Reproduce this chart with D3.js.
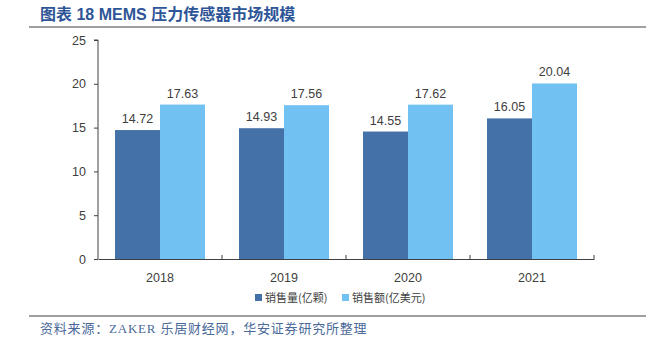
<!DOCTYPE html>
<html><head><meta charset="utf-8">
<script src="https://cdn.jsdelivr.net/npm/d3@7"></script>
<style>body{margin:0;background:#fff}svg{display:block}</style>
</head><body>
<svg id="c" width="648" height="340"></svg>
<script>
const categories = ["2018","2019","2020","2021"];
const seriesNames = ["销售量(亿颗)","销售额(亿美元)"];
const volume = [14.72,14.93,14.55,16.05];
const revenue = [17.63,17.56,17.62,20.04];
const yTicks = [0,5,10,15,20,25];
const colors = ["#4472a8","#72c1f3"];

const svg = d3.select("#c");
const m = {left:98, right:54, top:40, bottom:81};
const W = 648, H = 340;
const x0 = d3.scaleBand().domain(categories).range([m.left, W-m.right]).padding(0);
const x1 = d3.scaleBand().domain([0,1]).range([0, x0.bandwidth()]).paddingInner(0).paddingOuter(0.378);
const y = d3.scaleLinear().domain([0,25]).range([H-m.bottom, m.top]);

// title
svg.append("text").attr("x",40).attr("y",20).attr("fill","#2e5597")
  .attr("font-family","Liberation Sans, Noto Sans CJK SC, sans-serif").attr("font-weight","bold").attr("font-size",16)
  .text("图表 18 MEMS 压力传感器市场规模");
svg.append("line").attr("x1",29).attr("x2",646).attr("y1",27).attr("y2",27).attr("stroke","#7f7f7f").attr("stroke-width",1.5);

const data = [volume, revenue];
const g = svg.append("g");
categories.forEach((c,i)=>{
  [0,1].forEach(s=>{
    const v = data[s][i];
    g.append("rect").attr("x",x0(c)+x1(s)).attr("width",x1.bandwidth())
      .attr("y",y(v)).attr("height",y(0)-y(v)).attr("fill",colors[s]);
    g.append("text").attr("x",x0(c)+x1(s)+x1.bandwidth()/2).attr("y",y(v)-7)
      .attr("text-anchor","middle").attr("font-family","Liberation Sans, Arial, sans-serif")
      .attr("font-size",12.5).attr("fill","#404040").text(v.toFixed(2));
  });
});

// y axis
const ya = svg.append("g").attr("transform",`translate(${m.left},0)`)
  .call(d3.axisLeft(y).tickValues(yTicks).tickSize(4).tickPadding(8).tickFormat(d3.format("d")));
ya.select(".domain").attr("stroke","#404040").attr("d",`M-4,${y(25)}H0V${y(0)}`);
ya.selectAll(".tick line").attr("stroke","#404040");
ya.selectAll("text").attr("font-family","Liberation Sans, Arial, sans-serif").attr("font-size",12.5).attr("fill","#404040");

// x axis
const xa = svg.append("g").attr("transform",`translate(0,${y(0)})`)
  .call(d3.axisBottom(x0).tickSize(0).tickPadding(14));
xa.select(".domain").attr("stroke","#404040");
xa.selectAll("text").attr("font-family","Liberation Sans, Arial, sans-serif").attr("font-size",12.5).attr("fill","#404040");
categories.forEach(c=>{
  const xx = x0(c)+x0.bandwidth();
  xa.append("line").attr("x1",xx).attr("x2",xx).attr("y1",0).attr("y2",-4).attr("stroke","#404040");
});

// legend
const lg = svg.append("g");
const lx = [255, 342];
seriesNames.forEach((n,i)=>{
  lg.append("rect").attr("x",lx[i]).attr("y",294).attr("width",7).attr("height",7).attr("fill",colors[i]);
  lg.append("text").attr("x",lx[i]+10).attr("y",302).attr("font-family","Noto Sans CJK SC, sans-serif")
    .attr("font-size",11).attr("fill","#404040").text(n);
});

// footer
svg.append("line").attr("x1",29).attr("x2",646).attr("y1",316).attr("y2",316).attr("stroke","#404040").attr("stroke-width",1.2);
svg.append("text").attr("x",40).attr("y",333).attr("fill","#4a6a9a")
  .attr("font-family","Liberation Serif, Noto Sans CJK SC, serif").attr("font-size",13).attr("letter-spacing",0.8)
  .text("资料来源：ZAKER 乐居财经网，华安证券研究所整理");
</script>
</body></html>
